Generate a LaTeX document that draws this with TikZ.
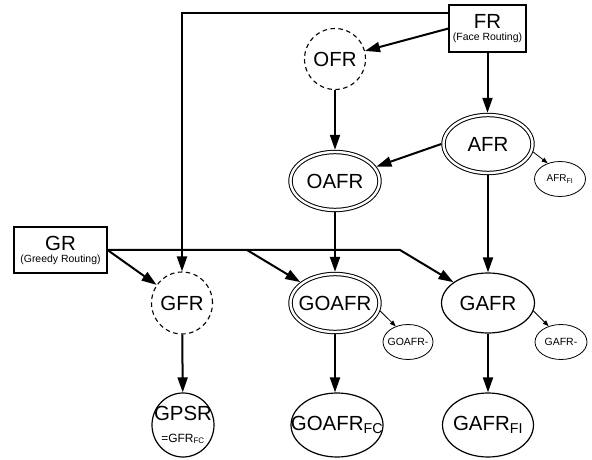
\documentclass[tikz,border=0pt]{standalone}
\usepackage{fontspec}
\setmainfont{Liberation Sans}
\usetikzlibrary{shapes.geometric,arrows.meta,calc}
\begin{document}
\begin{tikzpicture}[x=1bp,y=-1bp,
 main/.style={line width=2bp, -{Triangle[length=15bp,width=10bp]}},
 thinarrow/.style={line width=0.8bp, -{Triangle[length=6bp,width=4.5bp]}},
 ell/.style={ellipse, draw, line width=1.2bp, inner sep=0pt},
 sell/.style={ellipse, draw, line width=0.8bp, inner sep=0pt},
 dell/.style={ellipse, draw, line width=1bp, double, double distance=2.4bp, inner sep=0pt, outer sep=2.2bp},
 dcirc/.style={ellipse, draw, line width=1.1bp, dash pattern=on 4.5bp off 3.5bp, inner sep=0pt},
 box/.style={rectangle, draw, line width=1.1bp, align=center, inner sep=0pt},
 big/.style={font=\fontsize{20.5}{22}\selectfont},
 small/.style={font=\fontsize{10.5}{12}\selectfont},
 tiny/.style={font=\fontsize{10}{11}\selectfont},
]
\useasboundingbox (0,0) rectangle (592,460);

% boxes
\node[box, minimum width=77bp, minimum height=47bp] (FR) at (487.5,28.5)
  {\fontsize{20.5}{22}\selectfont FR\\\fontsize{10.5}{15}\selectfont (Face Routing)};
\node[box, minimum width=93bp, minimum height=46bp] (GR) at (60.5,250)
  {\fontsize{20.5}{22}\selectfont GR\\\fontsize{10.5}{15}\selectfont (Greedy Routing)};

% nodes
\node[dcirc, minimum width=61bp, minimum height=61bp, label={[big]center:OFR}] (OFR) at (335,59) {};
\node[dell, minimum width=89bp, minimum height=58bp, label={[big]center:AFR}] (AFR) at (488,144) {};
\node[sell, minimum width=51bp, minimum height=35bp, label={[tiny]center:AFR\textsubscript{FI}}] (AFRFI) at (560,179) {};
\node[dell, minimum width=89bp, minimum height=58bp, label={[big]center:OAFR}] (OAFR) at (335,181) {};
\node[dcirc, minimum width=61bp, minimum height=62bp, label={[big]center:GFR}] (GFR) at (182,303) {};
\node[dell, minimum width=89bp, minimum height=58bp, label={[big]center:GOAFR}] (GOAFR) at (335,303) {};
\node[sell, minimum width=50bp, minimum height=35bp, label={[small]center:GOAFR-}] (GOAFRm) at (408,342) {};
\node[ell, minimum width=93bp, minimum height=60bp, label={[big]center:GAFR}] (GAFR) at (488,303) {};
\node[sell, minimum width=52bp, minimum height=35bp, label={[small]center:GAFR-}] (GAFRm) at (561,342) {};
\node[ell, minimum width=62bp, minimum height=64bp,
  label={[align=center, big]center:{GPSR\\\fontsize{12}{12}\selectfont =GFR\textsubscript{FC}}}] (GPSR) at (183,425) {};
\node[ell, minimum width=92bp, minimum height=64bp, label={[big]center:GOAFR\textsubscript{FC}}] (GOAFRFC) at (337,425) {};
\node[ell, minimum width=91bp, minimum height=64bp, label={[big]center:GAFR\textsubscript{FI}}] (GAFRFI) at (488,425) {};

% junction points
\coordinate (tl) at (182,13);
\coordinate (j1) at (247,250);
\coordinate (j2) at (400,250);

% connectors
\draw[main] (FR.west |- tl) -- (tl) -- (GFR);
\draw[main] (FR.west) -- (OFR);
\draw[main] (FR.south) -- (FR.south |- AFR.north);
\draw[main] (OFR) -- (OAFR);
\draw[main] (AFR.west) -- (OAFR);
\draw[main] (AFR) -- (GAFR);
\draw[main] (OAFR) -- (GOAFR);
\draw[main] (GR.east) -- (GFR);
\draw[main] (GR.east) -- (j2) -- (GAFR);
\draw[main] (j1) -- (GOAFR);
\draw[main] (GFR) -- (GPSR);
\draw[main] (GOAFR.south) -- (GOAFR.south |- GOAFRFC.north);
\draw[main] (GAFR) -- (GAFRFI);
\draw[thinarrow] (AFR.-10) -- (AFRFI.128);
\draw[thinarrow] (GOAFR.-10) -- (GOAFRm.128);
\draw[thinarrow] (GAFR.-10) -- (GAFRm.128);
\end{tikzpicture}
\end{document}
